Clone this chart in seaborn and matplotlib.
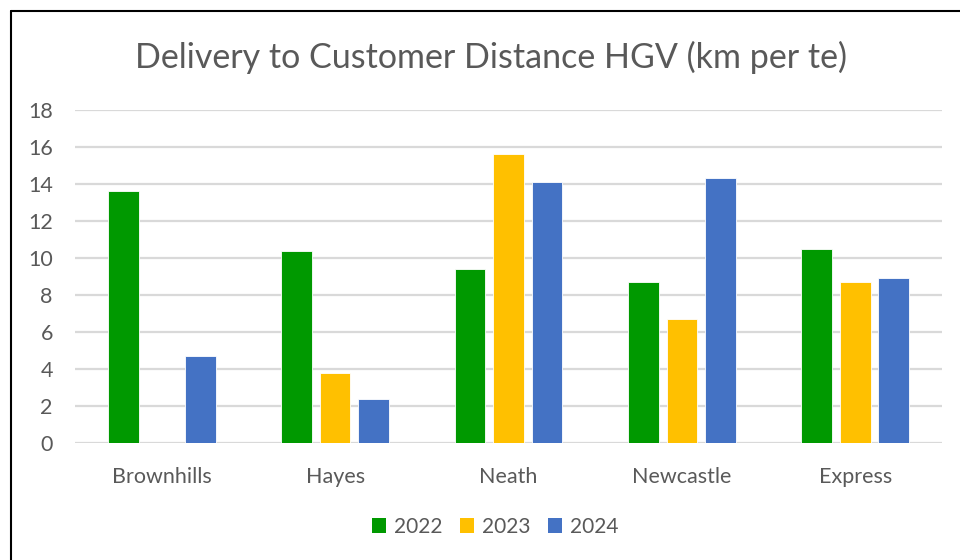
import matplotlib
matplotlib.use("Agg")
import matplotlib.pyplot as plt
import seaborn as sns
import pandas as pd
from matplotlib.lines import Line2D
from matplotlib.patches import Patch

categories = ["Brownhills", "Hayes", "Neath", "Newcastle", "Express"]
years = ["2022", "2023", "2024"]
v2022 = [13.6, 10.4, 9.4, 8.7, 10.5]
v2023 = [0.0, 3.8, 15.6, 6.7, 8.7]
v2024 = [4.7, 2.4, 14.1, 14.3, 8.9]
colors = ["#009900", "#FFC000", "#4472C4"]
yticks = [0, 2, 4, 6, 8, 10, 12, 14, 16, 18]

rows = []
for yr, vals in zip(years, [v2022, v2023, v2024]):
    for c, v in zip(categories, vals):
        rows.append({"Site": c, "Year": yr, "Value": v})
df = pd.DataFrame(rows)

sns.set_theme(style="white")
plt.rcParams["font.family"] = ["Lato", "DejaVu Sans"]
text_color = "#595959"

fig = plt.figure(figsize=(9.6, 5.6), dpi=100)
ax = fig.add_axes([75/960, 1-443/560, (942-75)/960, (443-110)/560])

sns.barplot(data=df, x="Site", y="Value", hue="Year", palette=colors,
            width=0.666, gap=0.2, ax=ax, legend=False, edgecolor="white", linewidth=0.6,
            saturation=1)

ax.set_ylim(0, 18)
ax.set_yticks(yticks)
ax.set_xlim(-0.5, 4.5)
ax.yaxis.grid(True, color="#d9d9d9", linewidth=1.6)
ax.set_axisbelow(True)
for s in ax.spines.values():
    s.set_visible(False)
ax.set_xlabel("")
ax.set_ylabel("")
ax.tick_params(axis="both", length=0, labelsize=15.5, colors=text_color)
ax.tick_params(axis="x", pad=17)
ax.tick_params(axis="y", pad=16)
for lab in ax.get_yticklabels():
    lab.set_horizontalalignment("right")

fig.text(491/960, 1-57/560, "Delivery to Customer Distance HGV (km per te)",
         ha="center", va="center", fontsize=24.5, color=text_color)

handles = [Patch(facecolor=c, edgecolor="none") for c in colors]
fig.legend(handles, years, loc="center", bbox_to_anchor=(495/960, 1-527/560),
           ncol=3, frameon=False, fontsize=15, labelcolor=text_color,
           handlelength=0.7, handleheight=0.7, handletextpad=0.35, columnspacing=0.85)

fig.add_artist(Line2D([11/960, 11/960], [0, 1-11/560], transform=fig.transFigure,
                      color="black", linewidth=1.5))
fig.add_artist(Line2D([11/960, 1], [1-11/560, 1-11/560], transform=fig.transFigure,
                      color="black", linewidth=1.5))

fig.savefig("out.png", dpi=100)
